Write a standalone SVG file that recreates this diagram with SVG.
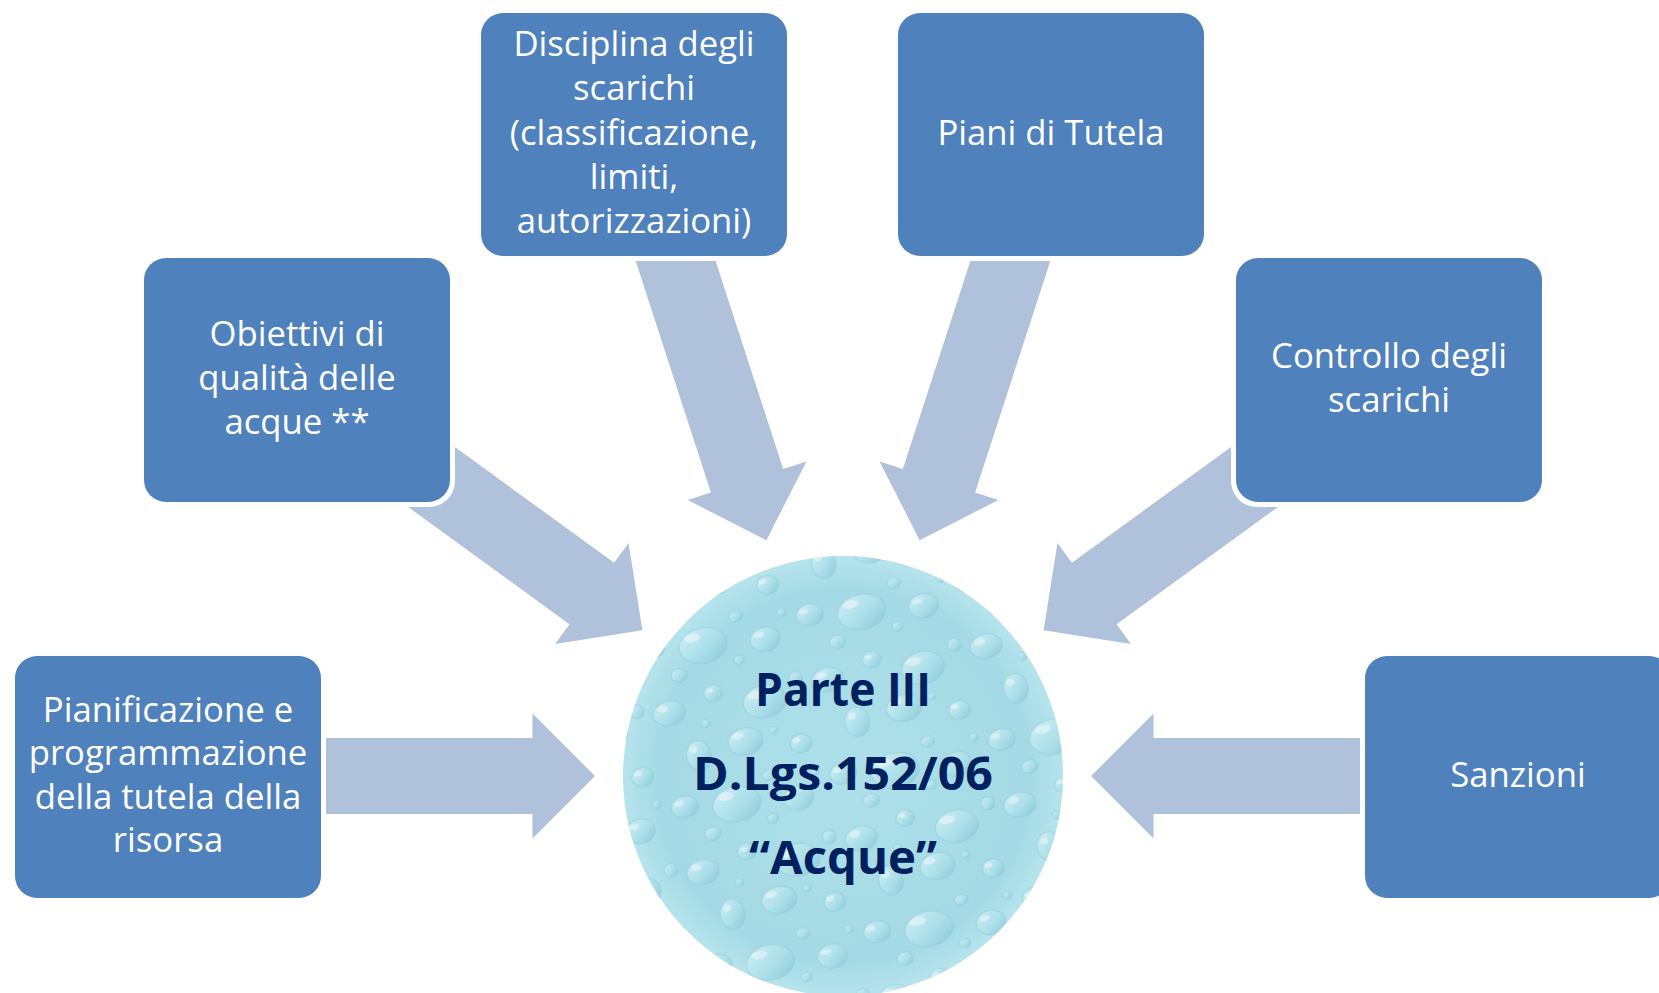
<svg xmlns="http://www.w3.org/2000/svg" width="1659" height="993" viewBox="0 0 1659 993">
  <defs>
    <style>
      .box { fill: #4f81bd; }
      .halo { fill: #ffffff; }
      .lbl { font-family: "Open Sans", "Noto Sans", "Liberation Sans", sans-serif; font-size: 34.7px; fill: #ffffff; text-anchor: middle; }
      .title { font-family: "Open Sans", "Noto Sans", "Liberation Sans", sans-serif; font-weight: 700; font-size: 46px; fill: #002060; text-anchor: middle; }
      .arrow { fill: #b0c1dc; }
      .drop { fill: url(#dropGrad); stroke: #8ac6d4; stroke-width: 1; stroke-opacity: 0.5; }
      .hl { fill: #ffffff; fill-opacity: 0.5; }
    </style>
    <linearGradient id="dropGrad" x1="0" y1="0" x2="1" y2="1">
      <stop offset="0" stop-color="#d6f1f6"/>
      <stop offset="0.55" stop-color="#ade0ea"/>
      <stop offset="1" stop-color="#86c6d5"/>
    </linearGradient>
    <radialGradient id="circBase" cx="0.5" cy="0.5" r="0.5">
      <stop offset="0" stop-color="#aee0ea"/>
      <stop offset="0.85" stop-color="#a4dae5"/>
      <stop offset="1" stop-color="#b6e4ed"/>
    </radialGradient>
    <pattern id="drops" x="0" y="0" width="120" height="120" patternUnits="userSpaceOnUse" patternTransform="rotate(-12) scale(1.35)">
      <ellipse class="drop" cx="15" cy="20" rx="12" ry="9"/>
      <ellipse class="hl" cx="11" cy="16" rx="4" ry="2.5"/>
      <ellipse class="drop" cx="50" cy="12" rx="7" ry="6"/>
      <ellipse class="hl" cx="48" cy="10" rx="2.5" ry="1.5"/>
      <ellipse class="drop" cx="86" cy="26" rx="16" ry="12"/>
      <ellipse class="hl" cx="80" cy="20" rx="6" ry="3"/>
      <ellipse class="drop" cx="30" cy="55" rx="9" ry="11"/>
      <ellipse class="hl" cx="27" cy="50" rx="3" ry="2.5"/>
      <ellipse class="drop" cx="66" cy="52" rx="13" ry="10"/>
      <ellipse class="hl" cx="61" cy="47" rx="4.5" ry="2.5"/>
      <ellipse class="drop" cx="106" cy="62" rx="8" ry="7"/>
      <ellipse class="hl" cx="103" cy="59" rx="3" ry="2"/>
      <ellipse class="drop" cx="12" cy="90" rx="10" ry="8"/>
      <ellipse class="hl" cx="8" cy="87" rx="3.5" ry="2"/>
      <ellipse class="drop" cx="50" cy="96" rx="18" ry="13"/>
      <ellipse class="hl" cx="43" cy="89" rx="6" ry="3"/>
      <ellipse class="drop" cx="96" cy="101" rx="11" ry="9"/>
      <ellipse class="hl" cx="92" cy="97" rx="4" ry="2"/>
      <ellipse class="drop" cx="78" cy="80" rx="5" ry="4"/>
      <ellipse class="drop" cx="112" cy="14" rx="5" ry="5"/>
      <ellipse class="drop" cx="28" cy="114" rx="6" ry="5"/>
      <ellipse class="drop" cx="40" cy="33" rx="3" ry="3"/>
      <ellipse class="drop" cx="88" cy="48" rx="3" ry="2.5"/>
      <ellipse class="drop" cx="74" cy="112" rx="4" ry="3.5"/>
      <ellipse class="drop" cx="112" cy="84" rx="3" ry="3"/>
    </pattern>
    <polygon id="arr" class="arrow" points="-608,-38 -310.5,-38 -310.5,-62.5 -248,0 -310.5,62.5 -310.5,38 -608,38"/>
  </defs>

  <rect width="1659" height="993" fill="#ffffff"/>

  <g id="connectors" transform="translate(843,776)">
    <use href="#arr" transform="rotate(0)"/>
    <use href="#arr" transform="rotate(36)"/>
    <use href="#arr" transform="rotate(72)"/>
    <use href="#arr" transform="rotate(108)"/>
    <use href="#arr" transform="rotate(144)"/>
    <use href="#arr" transform="rotate(180)"/>
  </g>

  <g id="center">
    <circle cx="843" cy="776" r="220" fill="url(#circBase)"/>
    <circle cx="843" cy="776" r="220" fill="url(#drops)" opacity="0.85"/>
    <text class="title" x="843" y="706" textLength="176" lengthAdjust="spacingAndGlyphs">Parte III</text>
    <text class="title" x="843" y="790" textLength="300" lengthAdjust="spacingAndGlyphs">D.Lgs.152/06</text>
    <text class="title" x="843" y="874" textLength="188" lengthAdjust="spacingAndGlyphs">“Acque”</text>
  </g>

  <g id="node-pianificazione">
    <rect class="halo" x="10" y="651" width="316" height="252" rx="26"/>
    <rect class="box" x="15" y="656" width="306" height="242" rx="22"/>
    <text class="lbl" x="168" y="722">Pianificazione e</text>
    <text class="lbl" x="168" y="765">programmazione</text>
    <text class="lbl" x="168" y="809">della tutela della</text>
    <text class="lbl" x="168" y="852">risorsa</text>
  </g>

  <g id="node-obiettivi">
    <rect class="halo" x="139" y="253" width="316" height="254" rx="26"/>
    <rect class="box" x="144" y="258" width="306" height="244" rx="22"/>
    <text class="lbl" x="297" y="346">Obiettivi di</text>
    <text class="lbl" x="297" y="390">qualità delle</text>
    <text class="lbl" x="297" y="434">acque **</text>
  </g>

  <g id="node-disciplina">
    <rect class="halo" x="476" y="8" width="316" height="253" rx="26"/>
    <rect class="box" x="481" y="13" width="306" height="243" rx="22"/>
    <text class="lbl" x="634" y="56">Disciplina degli</text>
    <text class="lbl" x="634" y="100">scarichi</text>
    <text class="lbl" x="634" y="145">(classificazione,</text>
    <text class="lbl" x="634" y="189">limiti,</text>
    <text class="lbl" x="634" y="233">autorizzazioni)</text>
  </g>

  <g id="node-piani">
    <rect class="halo" x="893" y="8" width="316" height="253" rx="26"/>
    <rect class="box" x="898" y="13" width="306" height="243" rx="22"/>
    <text class="lbl" x="1051" y="145">Piani di Tutela</text>
  </g>

  <g id="node-controllo">
    <rect class="halo" x="1231" y="253" width="316" height="254" rx="26"/>
    <rect class="box" x="1236" y="258" width="306" height="244" rx="22"/>
    <text class="lbl" x="1389" y="368">Controllo degli</text>
    <text class="lbl" x="1389" y="412">scarichi</text>
  </g>

  <g id="node-sanzioni">
    <rect class="halo" x="1360" y="651" width="316" height="252" rx="26"/>
    <rect class="box" x="1365" y="656" width="306" height="242" rx="22"/>
    <text class="lbl" x="1518" y="787">Sanzioni</text>
  </g>
</svg>
